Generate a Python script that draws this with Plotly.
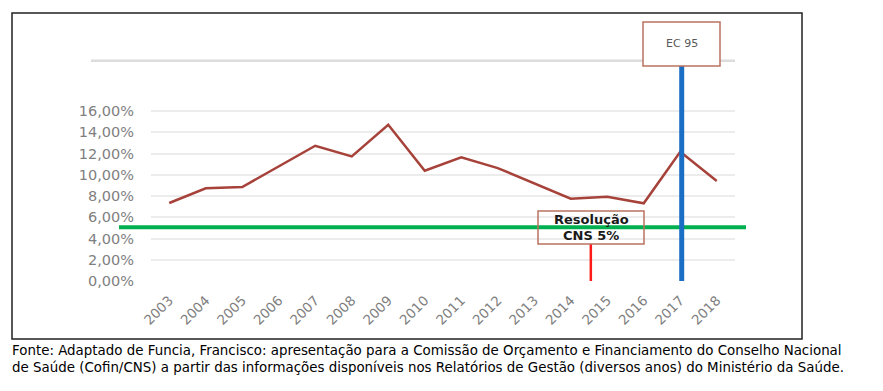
import plotly.graph_objects as go

years = [str(y) for y in range(2003, 2019)]
share = [7.34, 8.72, 8.84, 10.75, 12.73, 11.73, 14.71, 10.38, 11.65, 10.63,
         9.22, 7.74, 7.93, 7.31, 12.17, 9.41]
ytick_vals = [0, 2, 4, 6, 8, 10, 12, 14, 16]
ytick_text = ["0,00%", "2,00%", "4,00%", "6,00%", "8,00%", "10,00%", "12,00%", "14,00%", "16,00%"]

cns_level = 5.05          # Resolução CNS 5%
ec95_pos = 14.04          # EC 95 marker (category index)
cns_pos = 11.55           # Resolução marker (category index)

W, H = 883, 391
OFF = 8  # default page body margin
L, R, T, B = 151, 735, 61, 281
Y_MAX = (B - T) / 10.625  # 2% per 21.25 px
N = len(years)

def px_x(p):
    return (p - L) / (R - L)

def px_y(p):
    return (B - p) / (B - T)

def idx_x(i):
    return (i + 0.5) / N

def val_y(v):
    return v / Y_MAX

FONT = "DejaVu Sans"
GRAY = "#7f7f7f"
BOXC = "#b9735f"

fig = go.Figure()
fig.add_trace(go.Scatter(x=years, y=share, mode="lines",
                         line=dict(color="#a6423a", width=2.5), hoverinfo="skip"))

shapes = []
shapes.append(dict(type="rect", xref="paper", yref="paper", x0=px_x(12), x1=px_x(802),
                   y0=px_y(339), y1=px_y(13), line=dict(color="#222222", width=1.5), layer="below"))
shapes.append(dict(type="line", xref="paper", yref="paper", x0=px_x(91), x1=px_x(735),
                   y0=px_y(60.7), y1=px_y(60.7), line=dict(color="#dcdcdc", width=2.5), layer="below"))
shapes.append(dict(type="line", xref="paper", yref="paper", x0=px_x(119), x1=px_x(746),
                   y0=val_y(cns_level), y1=val_y(cns_level), line=dict(color="#00b050", width=4)))
shapes.append(dict(type="line", xref="paper", yref="paper", x0=idx_x(ec95_pos), x1=idx_x(ec95_pos),
                   y0=0, y1=px_y(66), line=dict(color="#1a6fc4", width=5)))
shapes.append(dict(type="line", xref="paper", yref="paper", x0=idx_x(cns_pos), x1=idx_x(cns_pos),
                   y0=0, y1=px_y(244), line=dict(color="#ff1a1a", width=2.5)))
shapes.append(dict(type="rect", xref="paper", yref="paper", x0=px_x(643), x1=px_x(720),
                   y0=px_y(66), y1=px_y(22), line=dict(color=BOXC, width=1.5), fillcolor="white"))
shapes.append(dict(type="rect", xref="paper", yref="paper", x0=px_x(538), x1=px_x(644),
                   y0=px_y(244), y1=px_y(211), line=dict(color=BOXC, width=1.5)))

annotations = [
    dict(text="EC 95", xref="paper", yref="paper", x=px_x(681.5), y=px_y(44), showarrow=False,
         font=dict(family=FONT, size=11, color="#595959"), xanchor="center", yanchor="middle"),
    dict(text="<b>Resolução</b>", xref="paper", yref="paper", x=px_x(591), y=px_y(219.5), showarrow=False,
         font=dict(family=FONT, size=13, color="#1a1a1a"), xanchor="center", yanchor="middle"),
    dict(text="<b>CNS 5%</b>", xref="paper", yref="paper", x=px_x(591), y=px_y(235.5), showarrow=False,
         font=dict(family=FONT, size=13, color="#1a1a1a"), xanchor="center", yanchor="middle"),
    dict(text="Fonte: Adaptado de Funcia, Francisco: apresentação para a Comissão de Orçamento e Financiamento do Conselho Nacional",
         xref="paper", yref="paper", x=px_x(10), y=px_y(350.5), showarrow=False,
         font=dict(family=FONT, size=13.4, color="#000000"), xanchor="left", yanchor="middle"),
    dict(text="de Saúde (Cofin/CNS) a partir das informações disponíveis nos Relatórios de Gestão (diversos anos) do Ministério da Saúde.",
         xref="paper", yref="paper", x=px_x(10), y=px_y(367.5), showarrow=False,
         font=dict(family=FONT, size=13.4, color="#000000"), xanchor="left", yanchor="middle"),
]

fig.update_layout(
    width=W, height=H,
    margin=dict(l=L - OFF, r=W - R + OFF, t=T - OFF, b=H - B + OFF, pad=0),
    paper_bgcolor="white", plot_bgcolor="white",
    showlegend=False,
    shapes=shapes, annotations=annotations,
    xaxis=dict(type="category", range=[-0.5, N - 0.5], showgrid=False, showline=False, zeroline=False,
               tickangle=-45, tickfont=dict(family=FONT, size=13.5, color=GRAY), ticks="", ticklabelstandoff=8),
    yaxis=dict(range=[0, Y_MAX], tickvals=ytick_vals, ticktext=ytick_text, showgrid=True,
               gridcolor="#ececec", gridwidth=1.5, zeroline=False, showline=False, ticks="",
               tickfont=dict(family=FONT, size=14.5, color=GRAY), ticklabelstandoff=16),
)

fig.write_html("out.html")
